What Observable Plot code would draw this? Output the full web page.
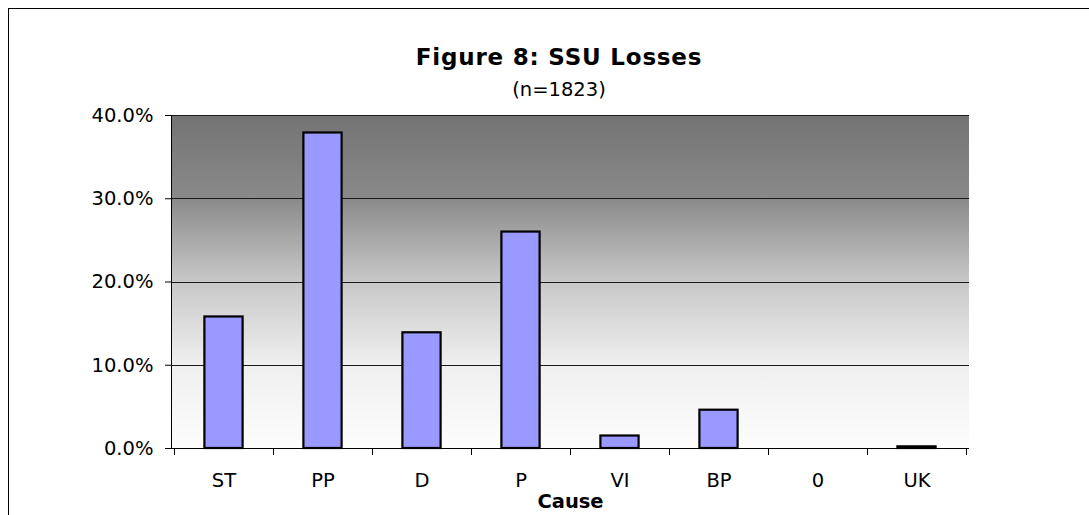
<!DOCTYPE html>
<html>
<head>
<meta charset="utf-8">
<script src="https://cdn.jsdelivr.net/npm/d3@7"></script>
<script src="https://cdn.jsdelivr.net/npm/@observablehq/plot@0.6"></script>
<style>
  html, body { margin: 0; padding: 0; background: #fff; overflow: hidden; }
  #wrap { position: relative; width: 1089px; height: 515px; overflow: hidden; font-family: "DejaVu Sans", Verdana, sans-serif; }
  #frame { position: absolute; left: 8px; top: 8px; width: 1200px; height: 700px; border: 1px solid #000; box-sizing: border-box; }
  #title { position: absolute; left: 0; width: 1118px; top: 46px; text-align: center; font-weight: bold; font-size: 23px; line-height: 23px; letter-spacing: 0.8px; color: #000; }
  #subtitle { position: absolute; left: 0; width: 1118px; top: 80px; text-align: center; font-size: 19.5px; line-height: 19.5px; color: #000; }
  #chart { position: absolute; left: 0; top: 0; }
</style>
</head>
<body>
<div id="wrap">
  <div id="frame"></div>
  <div id="chart"></div>
  <div id="title">Figure 8: SSU Losses</div>
  <div id="subtitle">(n=1823)</div>
</div>
<script>
const causes = ["ST", "PP", "D", "P", "VI", "BP", "0", "UK"];
const shares = [0.158, 0.379, 0.139, 0.260, 0.015, 0.046, 0, 0.002];
const yTicks = [0, 0.1, 0.2, 0.3, 0.4];
const gridValues = [0.1, 0.2, 0.3, 0.4];
const xLabel = "Cause";

const data = causes.map((c, i) => ({cause: c, share: shares[i]}));

const fontSize = 19.5;

// custom mark: gradient background
function background(index, scales, values, dims) {
  const {width, height, marginLeft, marginRight, marginTop, marginBottom} = dims;
  const g = d3.create("svg:g");
  const defs = g.append("defs");
  const lg = defs.append("linearGradient").attr("id", "bg-grad").attr("x1", 0).attr("y1", 0).attr("x2", 0).attr("y2", 1);
  [[0, "#737373"], [0.25, "#8a8a8a"], [0.5, "#c8c8c8"], [0.75, "#efefef"], [1, "#fdfdfd"]]
    .forEach(([o, c]) => lg.append("stop").attr("offset", o).attr("stop-color", c));
  g.append("rect")
    .attr("x", marginLeft).attr("y", marginTop)
    .attr("width", width - marginLeft - marginRight)
    .attr("height", height - marginTop - marginBottom)
    .attr("fill", "url(#bg-grad)");
  return g.node();
}

// custom mark: left axis line + ticks at category boundaries
function axesLines(index, scales, values, dims) {
  const {height, marginLeft, marginTop, marginBottom} = dims;
  const g = d3.create("svg:g").attr("stroke", "#000").attr("stroke-width", 1).attr("shape-rendering", "crispEdges");
  const x = scales.x;
  const step = x(causes[1]) - x(causes[0]);
  const y0 = height - marginBottom;
  g.append("line").attr("x1", marginLeft).attr("x2", marginLeft).attr("y1", marginTop).attr("y2", y0);
  const bounds = causes.map(c => x(c)).concat([x(causes[causes.length - 1]) + step]);
  bounds.forEach(b => g.append("line").attr("x1", b).attr("x2", b).attr("y1", y0).attr("y2", y0 + 7));
  return g.node();
}

const chart = Plot.plot({
  width: 1089,
  height: 515,
  marginLeft: 171,
  marginRight: 120,
  marginTop: 115,
  marginBottom: 67,
  style: {fontFamily: "DejaVu Sans, Verdana, sans-serif", fontSize: fontSize + "px", color: "#000", background: "transparent"},
  x: {domain: causes, padding: 0},
  y: {domain: [0, 0.4]},
  marks: [
    background,
    Plot.ruleY(gridValues, {stroke: "#1a1a1a", strokeWidth: 1, shapeRendering: "crispEdges"}),
    Plot.barY(data, {
      x: "cause", y: "share",
      filter: d => d.share > 0,
      fill: "#9999ff", stroke: "#000", strokeWidth: 2.2,
      insetLeft: 30.4, insetRight: 30.4
    }),
    Plot.ruleY([0], {stroke: "#000", strokeWidth: 1, shapeRendering: "crispEdges"}),
    axesLines,
    Plot.axisY({ticks: yTicks, tickFormat: d3.format(".1%"), tickSize: 6, tickPadding: 12, label: null, fontSize: fontSize, stroke: "#000"}),
    Plot.axisX({tickSize: 0, tickPadding: 24.5, label: null, fontSize: fontSize}),
    Plot.text([xLabel], {frameAnchor: "bottom", dy: 59.5, text: d => d, fontWeight: "bold", fontSize: fontSize, fill: "#000"})
  ]
});

document.getElementById("chart").appendChild(chart);
</script>
</body>
</html>
